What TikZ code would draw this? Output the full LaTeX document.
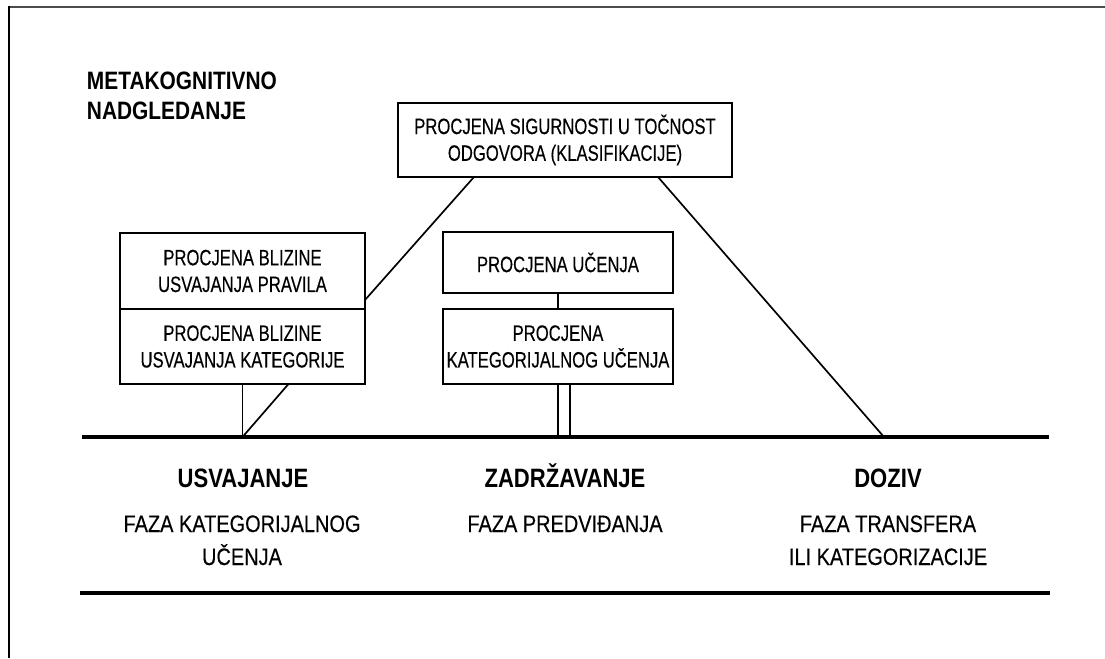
\documentclass[tikz,border=0pt]{standalone}
\usepackage{fontspec}
\setmainfont{Liberation Sans}
\newfontfamily\boxfont{Liberation Sans}[FakeStretch=0.75, FakeBold=0.3]
\newfontfamily\phasefont{Liberation Sans}[FakeStretch=0.84, FakeBold=0.3]
\newfontfamily\headfont{Liberation Sans}[FakeStretch=0.83]
\usetikzlibrary{positioning, calc}

\begin{document}
\begin{tikzpicture}[
        box/.style={rectangle, draw=black, line width=1.3pt, outer sep=0pt, minimum width=6.125cm, minimum height=1.9cm, align=center, inner sep=2pt, font=\boxfont\fontsize{15.8}{19}\selectfont},
        link/.style={line width=1.2pt, black},
        axis/.style={line width=2.9pt, black},
        head/.style={anchor=base, font=\headfont\bfseries\fontsize{18.9}{23}\selectfont},
        title/.style={anchor=base west, font=\headfont\bfseries\fontsize{17.9}{22}\selectfont},
        phase/.style={anchor=base, font=\phasefont\fontsize{16.9}{23.4}\selectfont}
    ]
        \useasboundingbox (0,0) rectangle (27.625,16.45);
        % frame
        \draw[line width=1.4pt, black!70] (0.225,16.275) -- (27.625,16.275);
        \draw[line width=1pt] (0.225,16.3) -- (0.225,0);

        % title
        \node[title] (t1) at (2.05,14.2) {METAKOGNITIVNO};
        \node[title] (t2) at (2.05,13.45) {NADGLEDANJE};

        % monitoring boxes
        \node[box, minimum width=8.35cm, minimum height=1.85cm] (sig) at (14.125,12.95) {PROCJENA SIGURNOSTI U TOČNOST\\ODGOVORA (KLASIFIKACIJE)};
        \node[box] (upL) at (6.0625,9.675) {PROCJENA BLIZINE\\USVAJANJA PRAVILA};
        \node[box, minimum height=1.875cm, below=0pt of upL] (lowL) {PROCJENA BLIZINE\\USVAJANJA KATEGORIJE};
        \node[box, minimum width=5.75cm, minimum height=1.525cm] (upM) at (13.95,9.8875) {PROCJENA UČENJA};
        \node[box, minimum width=5.75cm, minimum height=1.875cm, below=0.4cm of upM] (lowM) {PROCJENA\\KATEGORIJALNOG UČENJA};

        % time axis
        \coordinate (axL) at (2.05,5.525);
        \coordinate (axR) at (26.225,5.525);
        \coordinate (usv) at (lowL.south |- axL);
        \coordinate (doz) at (22.1,5.525);
        \draw[axis] (axL) -- (axR);
        \coordinate (baseL) at (2.0,1.625);
        \coordinate (baseR) at (26.25,1.625);
        \draw[axis] (baseL) -- (baseR);

        % links
        \draw[link] (lowL.south) -- (usv);
        \draw[link] ([xshift=1.15cm]lowL.south) -- (usv);
        \draw[link] ([xshift=1.9cm]sig.south west) -- ([yshift=0.225cm]upL.south east);
        \draw[link] ([xshift=-1.85cm]sig.south east) -- (doz);
        \draw[link] (upM) -- (lowM);
        \draw[link] (lowM.south) -- (lowM.south |- axL);
        \draw[link] ([xshift=0.3cm]lowM.south) -- ([xshift=0.3cm]lowM.south |- axL);

        % phases
        \node[head] (h1) at (6.075,4.275) {USVAJANJE};
        \node[phase] (p1a) at (6.05,3.15) {FAZA KATEGORIJALNOG};
        \node[phase] (p1b) at (6.05,2.325) {UČENJA};
        \node[head] (h2) at (14.125,4.275) {ZADRŽAVANJE};
        \node[phase] (p2) at (14.125,3.15) {FAZA PREDVIĐANJA};
        \node[head] (h3) at (22.2,4.275) {DOZIV};
        \node[phase] (p3a) at (22.2,3.15) {FAZA TRANSFERA};
        \node[phase] (p3b) at (22.2,2.325) {ILI KATEGORIZACIJE};
    \end{tikzpicture}
\end{document}
